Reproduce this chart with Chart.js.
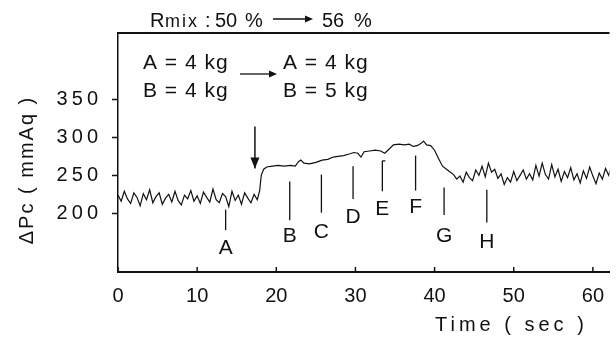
<!DOCTYPE html>
<html lang="en">
  <head>
    <meta charset="UTF-8" />
    <title>Pressure drop vs time</title>
    <script src="https://cdn.jsdelivr.net/npm/chart.js"></script>
    <style>
      body { margin: 0; background: #fff; }
    </style>
  </head>
  <body>
    <canvas id="myChart" width="616" height="338"></canvas>

    <script>
      // time axis (sec)
      const timeSec = [
        0, 0.4, 0.8, 1.2, 1.6, 2, 2.4, 2.8, 3.2, 3.6, 4, 4.4, 4.8, 5.2, 5.6,
        6, 6.4, 6.8, 7.2, 7.6, 8, 8.4, 8.8, 9.2, 9.6, 10, 10.4, 10.8, 11.2,
        11.6, 12, 12.4, 12.8, 13.2, 13.6, 14, 14.4, 14.8, 15.2, 15.6, 16, 16.4,
        16.8, 17.2, 17.6,
        17.9, 18.1, 18.4, 18.8, 19.5, 20.2, 21, 21.8, 22.4, 22.8, 23.1, 23.5,
        24.2, 25, 25.8, 26.5, 27.2, 27.8, 28.5, 29.2, 29.8, 30.3, 30.7, 31.1,
        31.8, 32.5, 33.2, 33.7, 34.2, 34.8, 35.5, 36.2, 36.8, 37.3, 37.8, 38.3,
        38.6, 39, 39.5, 40, 40.5, 41, 41.5, 42,
        42.4, 42.8, 43.2, 43.6, 44, 44.4, 44.8, 45.2, 45.6, 46, 46.4, 46.8,
        47.2, 47.6, 48, 48.4, 48.8, 49.2, 49.6, 50, 50.4, 50.8, 51.2, 51.6, 52,
        52.4, 52.8, 53.2, 53.6, 54, 54.4, 54.8, 55.2, 55.6, 56, 56.4, 56.8,
        57.2, 57.6, 58, 58.4, 58.8, 59.2, 59.6, 60, 60.4, 60.8, 61.2, 61.6, 62,
        62.4,
      ];

      // ΔPc (mmAq)
      const dPc = [
        224, 216, 229, 219, 213, 227, 221, 210, 226, 218, 231, 214, 222, 227,
        212, 220, 225, 215, 229, 217, 211, 224, 219, 230, 216, 223, 213, 228,
        221, 215, 232, 218, 214, 226, 222, 209, 229, 217, 224, 212, 227, 220,
        214, 225, 218,
        230, 250, 258, 261, 262, 263, 262, 263, 262, 268, 270, 266, 265, 267,
        270, 271, 274, 275, 276, 278, 280, 279, 274, 281, 282, 283, 282, 279,
        284, 290, 291, 290, 291, 288, 289, 292, 295, 290, 289, 283, 272, 262,
        258, 254,
        251, 245, 249, 241, 254, 247, 243, 257, 250, 262, 248, 266, 254, 258,
        246, 252, 238, 247, 241, 255, 243, 250, 257, 245, 252, 244, 263, 249,
        266, 251, 245, 264, 248, 258, 242, 255, 247, 260, 244, 252, 240, 256,
        246, 261, 249, 239, 253, 245, 259, 250, 263,
      ];

      const xTicks = [0, 10, 20, 30, 40, 50, 60];
      const yTicks = [200, 250, 300, 350];

      // sampling points A..H
      const markerNames = ["A", "B", "C", "D", "E", "F", "G", "H"];
      const markerTime = [13.6, 21.7, 25.7, 29.7, 33.4, 37.6, 41.2, 46.6];
      const markerTop = [205, 242, 251, 262, 269, 276, 234, 231];
      const markerBottom = [178, 191, 201, 219, 229, 230, 198, 188];
      const markerText = [155, 172, 177, 196, 207, 209, 172, 163];

      const FONT = "'Liberation Sans', 'DejaVu Sans', sans-serif";

      const spaced = (s) => String(s).split("").join("\u2009");

      // extra drawing: frame top, inner x ticks, markers, arrows, texts
      const extras = {
        id: "extras",
        afterDatasetsDraw(chart) {
          const { ctx, chartArea: ca, scales } = chart;
          const x = scales.x;
          const y = scales.y;
          ctx.save();
          ctx.strokeStyle = "#111";
          ctx.fillStyle = "#111";

          // top frame line
          ctx.lineWidth = 2;
          ctx.beginPath();
          ctx.moveTo(ca.left, ca.top);
          ctx.lineTo(ca.right, ca.top);
          ctx.stroke();

          // x ticks pointing inward
          ctx.lineWidth = 1.5;
          xTicks.forEach((t) => {
            const px = x.getPixelForValue(t);
            ctx.beginPath();
            ctx.moveTo(px, ca.bottom);
            ctx.lineTo(px, ca.bottom - 5);
            ctx.stroke();
          });

          // markers
          ctx.lineWidth = 1.3;
          ctx.font = "21px " + FONT;
          ctx.textAlign = "center";
          ctx.textBaseline = "middle";
          markerNames.forEach((n, i) => {
            const px = x.getPixelForValue(markerTime[i]);
            ctx.beginPath();
            ctx.moveTo(px, y.getPixelForValue(markerTop[i]));
            ctx.lineTo(px, y.getPixelForValue(markerBottom[i]));
            if (n === "E") {
              ctx.moveTo(px, y.getPixelForValue(markerTop[i]));
              ctx.lineTo(px + 3, y.getPixelForValue(markerTop[i]));
            }
            ctx.stroke();
            ctx.fillText(n, px, y.getPixelForValue(markerText[i]) + 1);
          });

          // down arrow (load change)
          const ax = x.getPixelForValue(17.3);
          const ay0 = y.getPixelForValue(314);
          const ay1 = y.getPixelForValue(259);
          ctx.lineWidth = 1.5;
          ctx.beginPath();
          ctx.moveTo(ax, ay0);
          ctx.lineTo(ax, ay1);
          ctx.stroke();
          ctx.beginPath();
          ctx.moveTo(ax - 4.5, ay1 - 11);
          ctx.lineTo(ax, ay1);
          ctx.lineTo(ax + 4.5, ay1 - 11);
          ctx.closePath();
          ctx.fill();

          // helper for small horizontal arrows
          const hArrow = (x0, x1, yy) => {
            ctx.lineWidth = 1.3;
            ctx.beginPath();
            ctx.moveTo(x0, yy);
            ctx.lineTo(x1 - 6, yy);
            ctx.stroke();
            ctx.beginPath();
            ctx.moveTo(x1 - 8, yy - 3.5);
            ctx.lineTo(x1, yy);
            ctx.lineTo(x1 - 8, yy + 3.5);
            ctx.closePath();
            ctx.fill();
          };

          // header: Rmix : 50 % -> 56 %
          ctx.textAlign = "left";
          ctx.textBaseline = "alphabetic";
          ctx.font = "20px " + FONT;
          ctx.fillText("R", 150, 27);
          ctx.font = "18px " + FONT;
          ctx.letterSpacing = "2px";
          ctx.fillText("mix", 165, 27);
          ctx.letterSpacing = "0px";
          ctx.font = "20px " + FONT;
          ctx.fillText(":", 205, 27);
          ctx.fillText("50", 215, 27);
          ctx.fillText("%", 245, 27);
          hArrow(273, 313, 19);
          ctx.fillText("56", 322, 27);
          ctx.fillText("%", 354, 27);

          // feed amounts
          ctx.font = "21px " + FONT;
          ctx.letterSpacing = "1px";
          ctx.fillText("A = 4 kg", 143, 69);
          ctx.fillText("B = 4 kg", 143, 97);
          ctx.fillText("A = 4 kg", 283, 69);
          ctx.fillText("B = 5 kg", 283, 97);
          hArrow(240, 277, 74);

          // axis titles
          ctx.font = "20px " + FONT;
          ctx.letterSpacing = "4px";
          ctx.fillText("Time ( sec )", 435, 331);
          ctx.translate(33, 170);
          ctx.rotate(-Math.PI / 2);
          ctx.textAlign = "center";
          ctx.letterSpacing = "2px";
          ctx.fillText("\u0394Pc ( mmAq )", 0, 0);
          ctx.restore();
        },
      };

      const ctx = document.querySelector("#myChart").getContext("2d");

      new Chart(ctx, {
        type: "line",
        data: {
          datasets: [
            {
              data: timeSec.map((t, i) => ({ x: t, y: dPc[i] })),
              borderColor: "#111",
              borderWidth: 1.2,
              pointRadius: 0,
              tension: 0,
            },
          ],
        },
        options: {
          responsive: false,
          animation: false,
          devicePixelRatio: 1,
          layout: { padding: { top: 33, right: 0, left: 10, bottom: 0 } },
          plugins: { legend: { display: false }, tooltip: { enabled: false } },
          scales: {
            x: {
              type: "linear",
              min: 0,
              max: 62.1,
              afterBuildTicks: (s) => {
                s.ticks = xTicks.map((v) => ({ value: v }));
              },
              afterFit: (s) => {
                s.height = 66;
              },
              grid: { display: false, drawTicks: false },
              border: { color: "#111", width: 2 },
              ticks: {
                color: "#111",
                font: { family: FONT, size: 20 },
                padding: 12,
                maxRotation: 0,
              },
            },
            y: {
              min: 123,
              max: 437,
              afterBuildTicks: (s) => {
                s.ticks = yTicks.map((v) => ({ value: v }));
              },
              afterFit: (s) => {
                s.width = 108;
              },
              grid: {
                drawOnChartArea: false,
                tickLength: 6,
                tickColor: "#111",
                tickWidth: 1.5,
              },
              border: { color: "#111", width: 1.5 },
              ticks: {
                color: "#111",
                font: { family: FONT, size: 20 },
                padding: 14,
                callback: (v) => spaced(v),
              },
            },
          },
        },
        plugins: [extras],
      });
    </script>
  </body>
</html>
